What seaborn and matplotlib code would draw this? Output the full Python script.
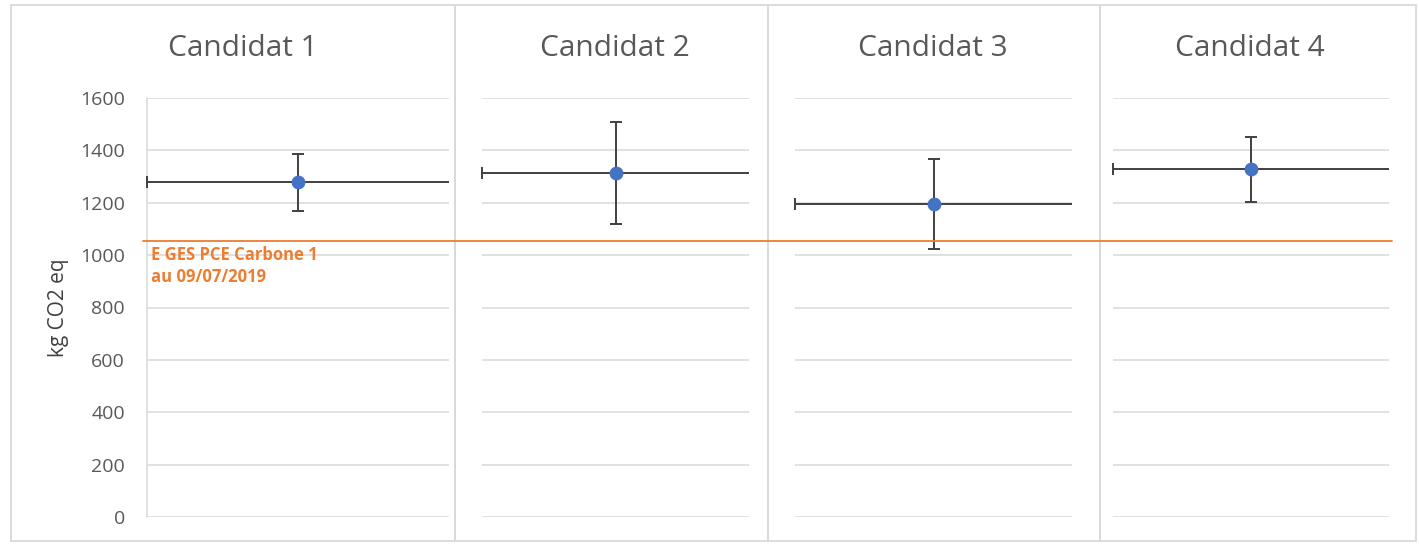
import seaborn as sns
import matplotlib.pyplot as plt
import pandas as pd
from matplotlib.patches import Rectangle
from matplotlib.lines import Line2D
from matplotlib.transforms import blended_transform_factory

# Daten
candidats = ["Candidat 1", "Candidat 2", "Candidat 3", "Candidat 4"]
valeurs = [1280, 1315, 1195, 1330]
err_bas = [112, 195, 172, 127]
err_haut = [106, 193, 172, 121]
x_pos = [1, 1, 1, 1]
x_err_gauche = [1, 1, 1, 1]
x_err_droite = [1.5, 1.5, 1.5, 1.5]
seuil = 1055
seuil_label = "E GES PCE Carbone 1\nau 09/07/2019"
y_ticks = [0, 200, 400, 600, 800, 1000, 1200, 1400, 1600]

df = pd.DataFrame({"candidat": candidats, "x": x_pos, "valeur": valeurs})

sns.set_theme(style="white")
plt.rcParams["font.family"] = ["Open Sans", "DejaVu Sans"]

W, H = 1419, 544
fig = plt.figure(figsize=(W / 100, H / 100), dpi=100)

# Cadres des graphiques (px)
cadres = [(11, 455), (455, 768), (768, 1100), (1100, 1416)]
zones = [(147, 449), (482, 749), (795, 1072), (1113, 1389)]
titres_x = [243, 615, 933, 1250]
grid_col = "#d9d9d9"
texte_col = "#595959"

for (l, r) in cadres:
    fig.add_artist(Rectangle((l / W, 3 / H), (r - l) / W, (539 - 3) / H,
                             transform=fig.transFigure, fill=False,
                             edgecolor=grid_col, lw=1.3))

axes = []
for i, (l, r) in enumerate(zones):
    ax = fig.add_axes([l / W, (H - 517) / H, (r - l) / W, 419 / H])
    sub = df.iloc[[i]]
    # barre horizontale
    eb = ax.errorbar(sub["x"], sub["valeur"],
                     xerr=[[x_err_gauche[i]], [x_err_droite[i]]],
                     fmt="none", ecolor="#404040", elinewidth=1.4,
                     capsize=4, capthick=1.4, zorder=3)
    for cl in eb.lines[1]:
        if cl.get_xdata()[0] > x_pos[i]:
            cl.set_visible(False)
        else:
            cl.set_clip_on(False)
    # barre verticale
    ax.errorbar(sub["x"], sub["valeur"],
                yerr=[[err_bas[i]], [err_haut[i]]],
                fmt="none", ecolor="#404040", elinewidth=1.4,
                capsize=4, capthick=1.4, zorder=3)
    sns.scatterplot(data=sub, x="x", y="valeur", ax=ax, color="#4472C4",
                    s=85, edgecolor="#4472C4", zorder=4, legend=False)
    ax.set_xlim(0, 2)
    ax.set_ylim(0, 1600)
    ax.set_yticks(y_ticks)
    ax.set_xticks([])
    ax.grid(axis="y", color=grid_col, lw=1.1)
    ax.set_axisbelow(True)
    for s in ["top", "right", "left", "bottom"]:
        ax.spines[s].set_visible(False)
    ax.set_xlabel("")
    ax.set_ylabel("")
    if i == 0:
        ax.spines["left"].set_visible(True)
        ax.spines["left"].set_color(grid_col)
        ax.spines["left"].set_linewidth(1.1)
        ax.tick_params(axis="y", length=0, pad=16, labelsize=14,
                       labelcolor=texte_col)
        ax.set_ylabel("kg CO2 eq", fontsize=15, color="#404040", labelpad=8)
    else:
        ax.tick_params(axis="y", left=False, labelleft=False)
    fig.text(titres_x[i] / W, (H - 48) / H, candidats[i], ha="center",
             va="center", fontsize=21.5, color=texte_col)
    axes.append(ax)

# Ligne de référence
trans = blended_transform_factory(fig.transFigure, axes[0].transData)
fig.add_artist(Line2D([143 / W, 1392 / W], [seuil, seuil], transform=trans,
                      color="#ED7D31", lw=1.3, zorder=5))
axes[0].annotate(seuil_label, xy=(0, seuil), xytext=(3, -4),
                 textcoords="offset points", ha="left", va="top",
                 fontsize=12, fontweight="bold", color="#ED7D31",
                 linespacing=1.25, annotation_clip=False)

fig.savefig("out.png", dpi=100)
